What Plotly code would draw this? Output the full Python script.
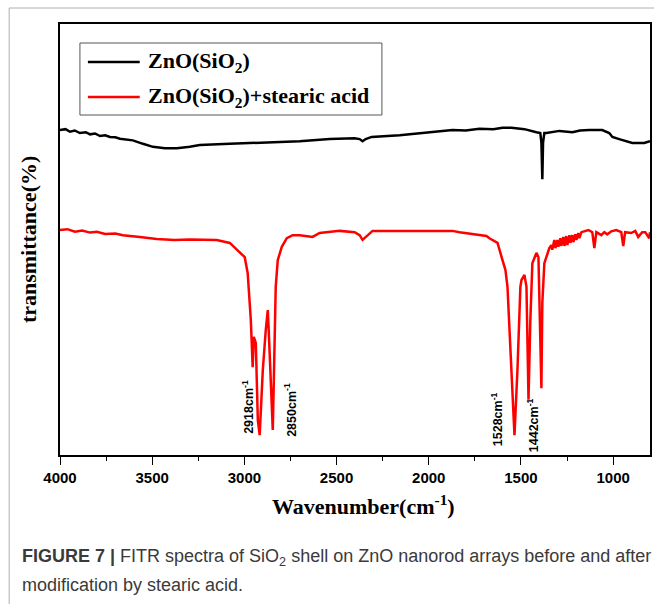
import plotly.graph_objects as go

# ---- data ----
wn_black = [4000, 3970, 3946, 3920, 3892, 3860, 3837, 3810, 3783, 3755, 3729, 3700, 3675,
            3640, 3605, 3550, 3496, 3431, 3366, 3296, 3242, 3079, 2917, 2700, 2537, 2402,
            2375, 2359, 2342, 2310, 2158, 2000, 1871, 1800, 1725, 1650, 1600, 1551, 1481,
            1416, 1395, 1389, 1384, 1380, 1373, 1362, 1329, 1291, 1221, 1180, 1129, 1059,
            1021, 1004, 967, 896, 831, 800]
t_black = [75.4, 75.6, 75.0, 75.3, 74.7, 74.9, 74.4, 74.6, 74.0, 74.2, 73.8, 73.7, 73.4,
           73.2, 73.0, 72.2, 71.5, 71.2, 71.2, 71.5, 71.9, 72.2, 72.4, 72.8, 73.3, 73.5,
           73.3, 72.8, 73.3, 73.8, 74.2, 74.8, 75.4, 75.3, 75.7, 75.6, 75.9, 75.9, 75.6,
           74.9, 74.7, 72.5, 64.0, 72.5, 74.7, 74.7, 74.9, 75.2, 74.9, 75.3, 75.4, 75.4,
           74.7, 73.8, 73.3, 72.4, 72.4, 72.8]

wn_red = [4000, 3960, 3919, 3880, 3837, 3800, 3756, 3700, 3659, 3620, 3567, 3475, 3380, 3296,
          3150, 3079, 3025, 2998, 2982, 2965, 2955, 2949, 2938, 2927, 2917, 2900, 2884,
          2873, 2868, 2852, 2846, 2841, 2830, 2819, 2797, 2770, 2738, 2700, 2662, 2630,
          2592, 2483, 2402, 2375, 2359, 2342, 2305, 2158, 1871, 1833, 1687, 1671, 1627,
          1600, 1584, 1573, 1552, 1535, 1519, 1503, 1497, 1481, 1470, 1459, 1449, 1438,
          1416, 1405, 1389, 1384, 1373, 1357, 1346, 1335, 1330, 1319, 1313, 1303, 1297,
          1286, 1281, 1270, 1264, 1254, 1248, 1237, 1232, 1221, 1216, 1205, 1199, 1189,
          1183, 1172, 1134, 1113, 1102, 1091, 1064, 1048, 1032, 1010, 983, 956, 945, 935,
          902, 880, 864, 842, 826, 804, 800]
t_red = [52.2, 52.4, 51.8, 52.1, 51.6, 51.8, 51.3, 51.4, 51.0, 50.9, 50.6, 50.1, 49.9, 50.0,
         49.9, 49.2, 47.1, 45.9, 42.2, 31.3, 20.4, 27.4, 26.0, 8.1, 4.6, 19.7, 29.0,
         33.6, 29.0, 12.1, 5.8, 15.8, 39.0, 45.2, 48.3, 50.3, 51.0, 51.0, 50.8, 50.6,
         51.5, 52.0, 51.7, 51.0, 49.9, 50.6, 52.0, 52.0, 52.0, 51.7, 50.8, 50.3, 49.2,
         45.2, 42.9, 39.0, 19.7, 4.6, 19.7, 39.0, 40.6, 41.8, 39.0, 12.8, 31.3, 44.5,
         46.9, 45.9, 15.5, 35.3, 44.5, 46.9, 48.0, 48.7, 47.6, 49.9, 48.0, 49.9, 48.3,
         50.3, 48.5, 50.6, 48.5, 50.8, 48.7, 51.0, 49.2, 51.0, 49.4, 51.2, 49.9, 51.5,
         50.3, 51.7, 52.2, 51.7, 48.0, 51.7, 51.0, 51.7, 51.2, 51.9, 52.2, 51.7, 48.5, 51.7,
         51.5, 52.0, 50.6, 51.7, 51.7, 50.3, 51.7]

series_names = ["ZnO(SiO<sub>2</sub>)", "ZnO(SiO<sub>2</sub>)+stearic acid"]
series_colors = ["#000000", "#ff0000"]

major_ticks = [4000, 3500, 3000, 2500, 2000, 1500, 1000]
minor_ticks = [3750, 3250, 2750, 2250, 1750, 1250]

peak_labels = ["2918cm<sup>-1</sup>", "2850cm<sup>-1</sup>", "1528cm<sup>-1</sup>", "1442cm<sup>-1</sup>"]
peak_label_x = [2982, 2749, 1633, 1438]
peak_label_y = [11.1, 10.4, 8.4, 7.0]

# ---- figure ----
fig = go.Figure()
fig.add_trace(go.Scatter(x=wn_black, y=t_black, mode="lines", name=series_names[0],
                         line=dict(color=series_colors[0], width=2.5), showlegend=False))
fig.add_trace(go.Scatter(x=wn_red, y=t_red, mode="lines", name=series_names[1],
                         line=dict(color=series_colors[1], width=2.5), showlegend=False))

serif = "Liberation Serif, Times New Roman, serif"
sans = "Liberation Sans, Arial, sans-serif"
caption_font = "Liberation Sans Narrow, Arial Narrow, Liberation Sans, sans-serif"

fig.update_layout(
    width=654, height=604,
    margin=dict(l=60, r=2, t=24, b=149),
    paper_bgcolor="white", plot_bgcolor="white",
    xaxis=dict(range=[4000, 800], tickmode="array", tickvals=major_ticks,
               ticks="outside", ticklen=8, tickwidth=1.3, tickcolor="black",
               showline=True, linecolor="black", linewidth=1.6, mirror=True,
               showgrid=False, zeroline=False,
               tickfont=dict(family=sans, size=15, color="black", weight="bold"),
               minor=dict(tickmode="array", tickvals=minor_ticks, ticks="outside",
                          ticklen=4, tickwidth=1.3, tickcolor="black", showgrid=False)),
    yaxis=dict(range=[0, 100], showticklabels=False, ticks="",
               showline=True, linecolor="black", linewidth=1.6, mirror=True,
               showgrid=False, zeroline=False),
)


def px_x(p):
    return (p - 60) / 592.0


def px_y(p):
    return (455 - p) / 431.0


shapes = [
    dict(type="rect", xref="paper", yref="paper", x0=px_x(80), x1=px_x(383),
         y0=px_y(115), y1=px_y(43), line=dict(color="#555", width=1), fillcolor="white"),
    dict(type="line", xref="paper", yref="paper", x0=px_x(88), x1=px_x(140),
         y0=px_y(62), y1=px_y(62), line=dict(color=series_colors[0], width=2.5)),
    dict(type="line", xref="paper", yref="paper", x0=px_x(88), x1=px_x(140),
         y0=px_y(97), y1=px_y(97), line=dict(color=series_colors[1], width=2.5)),
    # outer light frame of the figure panel
    dict(type="line", xref="paper", yref="paper", x0=px_x(9), x1=px_x(9),
         y0=px_y(8), y1=px_y(610), line=dict(color="#b0b0b0", width=1)),
    dict(type="line", xref="paper", yref="paper", x0=px_x(9), x1=px_x(660),
         y0=px_y(8), y1=px_y(8), line=dict(color="#b0b0b0", width=1)),
]
fig.update_layout(shapes=shapes)

annotations = [
    dict(text=series_names[0], xref="paper", yref="paper", x=px_x(146), y=px_y(62),
         xanchor="left", yanchor="middle", showarrow=False,
         font=dict(family=serif, size=22, color="black", weight="bold")),
    dict(text=series_names[1], xref="paper", yref="paper", x=px_x(146), y=px_y(97),
         xanchor="left", yanchor="middle", showarrow=False,
         font=dict(family=serif, size=22, color="black", weight="bold")),
    dict(text="Wavenumber(cm<sup>-1</sup>)", xref="paper", yref="paper",
         x=px_x(365), y=px_y(505), xanchor="center", yanchor="middle", showarrow=False,
         font=dict(family=serif, size=22, color="black", weight="bold")),
    dict(text="transmittance(%)", xref="paper", yref="paper",
         x=px_x(28), y=px_y(240), xanchor="center", yanchor="middle", showarrow=False,
         textangle=-90, font=dict(family=serif, size=22, color="black", weight="bold")),
    dict(text="<b>FIGURE 7 |</b> FITR spectra of SiO<sub>2</sub> shell on ZnO nanorod arrays before and after",
         xref="paper", yref="paper", x=px_x(20), y=px_y(557), xanchor="left",
         yanchor="middle", showarrow=False,
         font=dict(family=caption_font, size=18, color="#3a3a3a")),
    dict(text="modification by stearic acid.",
         xref="paper", yref="paper", x=px_x(20), y=px_y(585), xanchor="left",
         yanchor="middle", showarrow=False,
         font=dict(family=caption_font, size=18, color="#3a3a3a")),
]
for txt, xv, yv in zip(peak_labels, peak_label_x, peak_label_y):
    annotations.append(dict(text=txt, x=xv, y=yv, xref="x", yref="y", showarrow=False,
                            textangle=-90, xanchor="center", yanchor="middle",
                            font=dict(family=sans, size=12.5, color="black", weight="bold")))
fig.update_layout(annotations=annotations)

fig.write_html("out.html")
